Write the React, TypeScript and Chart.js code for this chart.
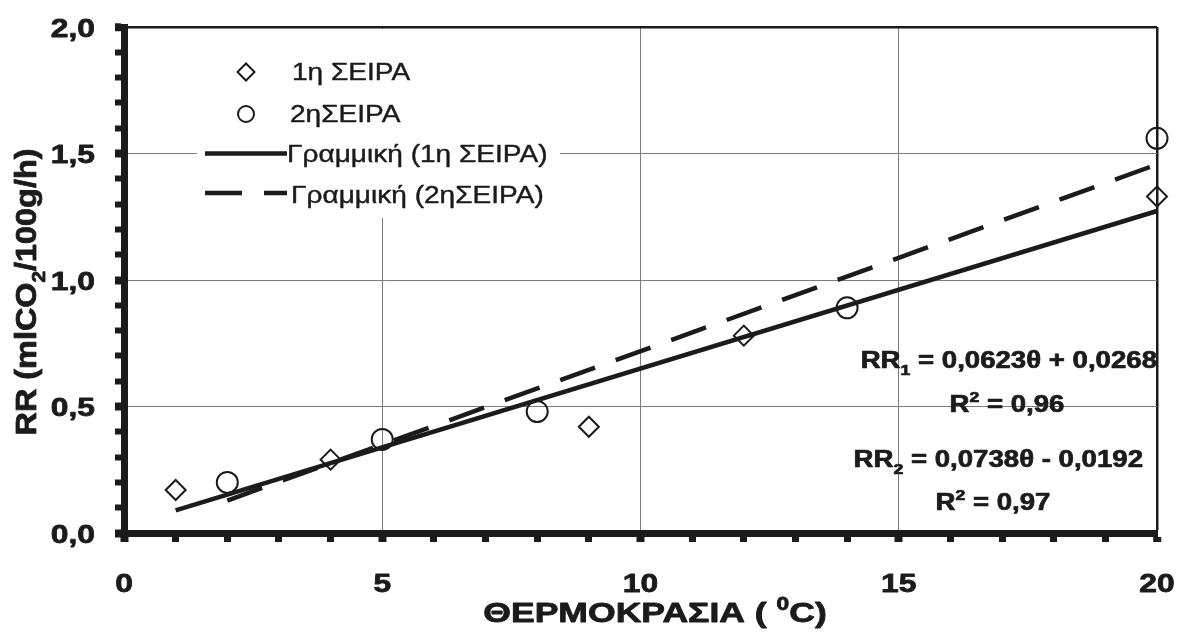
import { useEffect, useRef } from 'react';
import { Chart, registerables } from 'chart.js';

Chart.register(...registerables);

// Measured respiration rate per temperature, two runs
const run1Temp = [1, 4, 9, 12, 20];
const run1Rate = [0.17, 0.29, 0.42, 0.78, 1.33];
const run2Temp = [2, 5, 8, 14, 20];
const run2Rate = [0.2, 0.37, 0.48, 0.89, 1.56];

// Linear fits: [slope, intercept], fitted temperature span, R²
const fit1 = [0.0623, 0.0268];
const fit2 = [0.0738, -0.0192];
const fit1Span = [1, 20];
const fit2Span = [2, 20];
const fitR2 = ['0,96', '0,97'];

const seriesNames = ['1η ΣΕΙΡΑ', '2ηΣΕΙΡΑ', 'Γραμμική (1η ΣΕΙΡΑ)', 'Γραμμική (2ηΣΕΙΡΑ)'];

const xTickValues = [0, 5, 10, 15, 20];
const xTickLabels = ['0', '5', '10', '15', '20'];
const yTickValues = [0, 0.5, 1, 1.5, 2];
const yTickLabels = ['0,0', '0,5', '1,0', '1,5', '2,0'];

const INK = '#1b1b1b';
const GRID = '#7c7c7c';
const FAMILY = '"Liberation Sans", Arial, Helvetica, sans-serif';
const DASH = [37, 22];

type Part = { t: string; k?: 'sub' | 'sup' };

function drawRich(
  ctx: CanvasRenderingContext2D,
  parts: Part[],
  x: number,
  y: number,
  o: { size: number; bold?: boolean; align: 'left' | 'center' | 'right'; sx: number; heavy?: number }
) {
  const weight = o.bold ? 'bold' : 'normal';
  const small = o.size * 0.64;
  const font = (s: number) => `${weight} ${s}px ${FAMILY}`;
  const widths = parts.map((p) => {
    ctx.font = font(p.k ? small : o.size);
    return ctx.measureText(p.t).width;
  });
  const total = widths.reduce((a, b) => a + b, 0) * o.sx;
  const start = o.align === 'left' ? x : o.align === 'right' ? x - total : x - total / 2;
  ctx.save();
  ctx.translate(start, y);
  ctx.scale(o.sx, 1);
  ctx.textAlign = 'left';
  ctx.textBaseline = 'alphabetic';
  ctx.lineJoin = 'round';
  let cx = 0;
  parts.forEach((p, i) => {
    ctx.font = font(p.k ? small : o.size);
    const dy = p.k === 'sub' ? o.size * 0.3 : p.k === 'sup' ? -o.size * 0.42 : 0;
    ctx.fillText(p.t, cx, dy);
    if (o.heavy) {
      ctx.lineWidth = o.heavy;
      ctx.strokeText(p.t, cx, dy);
    }
    cx += widths[i];
  });
  ctx.restore();
}

const fmt = (v: number) => Math.abs(v).toFixed(4).replace('.', ',');
const equation = (name: string, f: number[]): Part[] => [
  { t: 'RR' },
  { t: name, k: 'sub' },
  { t: ` = ${fmt(f[0])}θ ${f[1] < 0 ? '-' : '+'} ${fmt(f[1])}` },
];
const r2Text = (v: string): Part[] => [{ t: 'R' }, { t: '2', k: 'sup' }, { t: ` = ${v}` }];

function diamond(ctx: CanvasRenderingContext2D, cx: number, cy: number, r: number) {
  ctx.beginPath();
  ctx.moveTo(cx - r, cy);
  ctx.lineTo(cx, cy - r);
  ctx.lineTo(cx + r, cy);
  ctx.lineTo(cx, cy + r);
  ctx.closePath();
  ctx.stroke();
}

const decorPlugin = {
  id: 'decor',
  afterDraw(chart: any) {
    const { ctx } = chart;
    const xs = chart.scales.x;
    const ys = chart.scales.y;
    ctx.save();
    ctx.fillStyle = INK;
    ctx.strokeStyle = INK;

    // tick labels
    yTickValues.forEach((v, i) =>
      drawRich(ctx, [{ t: yTickLabels[i] }], 95, ys.getPixelForValue(v) + 9.5, {
        size: 26.5, bold: true, align: 'right', sx: 1.2, heavy: 0.8,
      })
    );
    xTickValues.forEach((v, i) =>
      drawRich(ctx, [{ t: xTickLabels[i] }], xs.getPixelForValue(v), 591.5, {
        size: 26.5, bold: true, align: 'center', sx: 1.2, heavy: 0.8,
      })
    );

    // axis titles
    drawRich(ctx, [{ t: 'ΘΕΡΜΟΚΡΑΣΙΑ ( ' }, { t: '0', k: 'sup' }, { t: 'C)' }], 655, 622, {
      size: 28, bold: true, align: 'center', sx: 1.27, heavy: 0.8,
    });
    ctx.save();
    ctx.translate(36, 292);
    ctx.rotate(-Math.PI / 2);
    drawRich(ctx, [{ t: 'RR (mlCO' }, { t: '2', k: 'sub' }, { t: '/100g/h)' }], 0, 0, {
      size: 30, bold: true, align: 'center', sx: 1.08, heavy: 0.8,
    });
    ctx.restore();

    // legend
    ctx.fillStyle = '#ffffff';
    ctx.fillRect(197, 29, 363, 189);
    ctx.fillStyle = INK;
    ctx.lineWidth = 2;
    diamond(ctx, 246, 72, 8.5);
    ctx.beginPath();
    ctx.arc(246, 114, 8, 0, Math.PI * 2);
    ctx.stroke();
    ctx.lineWidth = 4.5;
    ctx.beginPath();
    ctx.moveTo(205, 153.5);
    ctx.lineTo(287, 153.5);
    ctx.stroke();
    ctx.setLineDash(DASH);
    ctx.beginPath();
    ctx.moveTo(205, 193);
    ctx.lineTo(287, 193);
    ctx.stroke();
    ctx.setLineDash([]);
    const lg = { size: 23, align: 'left' as const, sx: 1.22, heavy: 0.4 };
    drawRich(ctx, [{ t: seriesNames[0] }], 292, 80, lg);
    drawRich(ctx, [{ t: seriesNames[1] }], 290, 122, lg);
    drawRich(ctx, [{ t: seriesNames[2] }], 287, 162, lg);
    drawRich(ctx, [{ t: seriesNames[3] }], 291, 203, lg);

    // fit equations
    const eq = { size: 23, bold: true, sx: 1.2, heavy: 0.7 };
    drawRich(ctx, equation('1', fit1), 1157, 368, { ...eq, align: 'right' });
    drawRich(ctx, r2Text(fitR2[0]), 1007, 412, { ...eq, align: 'center' });
    drawRich(ctx, equation('2', fit2), 1143, 467, { ...eq, align: 'right' });
    drawRich(ctx, r2Text(fitR2[1]), 993, 510, { ...eq, align: 'center' });

    ctx.restore();
  },
};

const fitLine = (f: number[], span: number[]) =>
  span.map((t) => ({ x: t, y: f[0] * t + f[1] }));

export default function App() {
  const canvasRef = useRef<HTMLCanvasElement>(null);

  useEffect(() => {
    const canvas = canvasRef.current;
    if (!canvas) return;

    const yGridColor = (c: any) => {
      if (!c.tick) return 'rgba(0,0,0,0)';
      const v = Math.round(c.tick.value * 10);
      if (v === 20) return INK;
      if (v !== 0 && v % 5 === 0) return GRID;
      return 'rgba(0,0,0,0)';
    };
    const xGridColor = (c: any) => {
      if (!c.tick) return 'rgba(0,0,0,0)';
      const v = Math.round(c.tick.value);
      if (v === 20) return INK;
      if (v !== 0 && v % 5 === 0) return GRID;
      return 'rgba(0,0,0,0)';
    };

    const chart = new Chart(canvas, {
      type: 'scatter',
      data: {
        datasets: [
          {
            label: seriesNames[0],
            data: run1Temp.map((t, i) => ({ x: t, y: run1Rate[i] })),
            pointStyle: 'rectRot',
            pointRadius: 10,
            borderWidth: 2,
            borderColor: INK,
            backgroundColor: 'rgba(0,0,0,0)',
            clip: false,
          },
          {
            label: seriesNames[1],
            data: run2Temp.map((t, i) => ({ x: t, y: run2Rate[i] })),
            pointStyle: 'circle',
            pointRadius: 10.5,
            borderWidth: 2,
            borderColor: INK,
            backgroundColor: 'rgba(0,0,0,0)',
            clip: false,
          },
          {
            label: seriesNames[2],
            type: 'line',
            data: fitLine(fit1, fit1Span),
            showLine: true,
            pointRadius: 0,
            borderWidth: 4.5,
            borderColor: INK,
            fill: false,
            clip: false,
          },
          {
            label: seriesNames[3],
            type: 'line',
            data: fitLine(fit2, fit2Span),
            showLine: true,
            pointRadius: 0,
            borderWidth: 4.5,
            borderColor: INK,
            borderDash: DASH,
            fill: false,
            clip: false,
          },
        ],
      } as any,
      options: {
        animation: false,
        responsive: false,
        events: [],
        layout: { autoPadding: false, padding: { left: 0, top: 27, right: 22, bottom: 0 } },
        plugins: { legend: { display: false }, tooltip: { enabled: false }, title: { display: false } },
        scales: {
          x: {
            type: 'linear',
            min: 0,
            max: 20,
            afterFit: (s: any) => { s.height = 110; },
            ticks: { stepSize: 1, display: false, maxTicksLimit: 100 },
            grid: {
              color: xGridColor,
              lineWidth: (c: any) => (c.tick && Math.round(c.tick.value) === 20 ? 2.5 : 1),
              drawTicks: true,
              tickLength: 9,
              tickWidth: (c: any) => (c.tick && Math.round(c.tick.value) % 5 === 0 ? 8 : 7),
              tickColor: INK,
            },
            border: { display: true, width: 7, color: INK },
          },
          y: {
            type: 'linear',
            min: 0,
            max: 2,
            afterFit: (s: any) => { s.width = 124; },
            ticks: { stepSize: 0.1, display: false, maxTicksLimit: 100 },
            grid: {
              color: yGridColor,
              lineWidth: (c: any) => (c.tick && Math.round(c.tick.value * 10) === 20 ? 2.5 : 1),
              drawTicks: true,
              tickLength: 9,
              tickWidth: (c: any) => (c.tick && Math.round(c.tick.value * 10) % 5 === 0 ? 8 : 6),
              tickColor: INK,
            },
            border: { display: true, width: 7, color: INK },
          },
        },
      } as any,
      plugins: [decorPlugin],
    });

    return () => chart.destroy();
  }, []);

  return (
    <div style={{ position: 'fixed', left: 0, top: 0, width: 1179, height: 643, background: '#ffffff' }}>
      <canvas ref={canvasRef} width={1179} height={643} style={{ display: 'block', width: 1179, height: 643 }} />
    </div>
  );
}
